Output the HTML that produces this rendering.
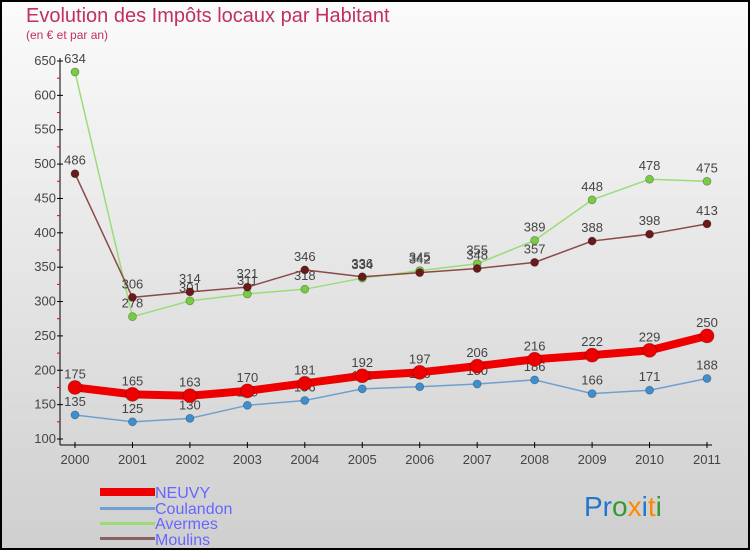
<!DOCTYPE html>
<html><head><meta charset="utf-8"><style>
body{margin:0;width:750px;height:550px;overflow:hidden;font-family:"Liberation Sans",sans-serif}
</style></head><body>
<svg id="c" width="750" height="550" xmlns="http://www.w3.org/2000/svg">
<defs><linearGradient id="bg" x1="0" y1="0" x2="0" y2="1"><stop offset="0" stop-color="#fbfbfb"/><stop offset="1" stop-color="#cfcfcf"/></linearGradient></defs>
<rect x="1" y="1" width="748" height="548" fill="url(#bg)" stroke="#000" stroke-width="2"/>
<text x="26" y="22" font-size="20" fill="#c03060">Evolution des Impôts locaux par Habitant</text>
<text x="26" y="39" font-size="12" fill="#c03060">(en € et par an)</text>
<g id="axes"></g><g id="series"></g>
<g font-size="16" fill="#6666ff">
<rect x="100" y="488" width="55" height="8" fill="#ee0000"/><text x="155" y="498">NEUVY</text>
<rect x="100" y="507" width="55" height="3" fill="#6fa0d0"/><text x="155" y="514">Coulandon</text>
<rect x="100" y="522" width="55" height="3" fill="#99dd77"/><text x="155" y="529">Avermes</text>
<rect x="100" y="537" width="55" height="3" fill="#8a6060"/><text x="155" y="545">Moulins</text>
</g>
<g font-size="28">
<text x="584" y="516"><tspan fill="#2277cc">Pr</tspan><tspan fill="#339933">o</tspan><tspan fill="#ff8800">x</tspan><tspan fill="#2277cc">i</tspan><tspan fill="#ff8800">t</tspan><tspan fill="#339933">i</tspan></text>
</g>
</svg>
<script>
const years=["2000","2001","2002","2003","2004","2005","2006","2007","2008","2009","2010","2011"];
const neuvy=[175,165,163,170,181,192,197,206,216,222,229,250];
const coulandon=[135,125,130,149,156,173,176,180,186,166,171,188];
const avermes=[634,278,301,311,318,334,345,355,389,448,478,475];
const moulins=[486,306,314,321,346,336,342,348,357,388,398,413];
const yTicks=[100,150,200,250,300,350,400,450,500,550,600,650];
const NS="http://www.w3.org/2000/svg";
const x=i=>75+i*(707-75)/11;
const y=v=>439-(v-100)*(439-61)/550;
function mk(t,a,p){const e=document.createElementNS(NS,t);for(const k in a)e.setAttribute(k,a[k]);p.appendChild(e);return e;}
const ax=document.getElementById('axes');
let l=mk('line',{x1:60,y1:58,x2:60,y2:445,stroke:'#000'},ax);

l=mk('line',{x1:60,y1:445,x2:712,y2:445,stroke:'#000'},ax);

yTicks.forEach((v,i)=>{
 mk('line',{x1:57,y1:y(v),x2:63,y2:y(v),stroke:'#000'},ax);
 if(i<yTicks.length-1)mk('line',{x1:57,y1:y(v+25),x2:60,y2:y(v+25),stroke:'#e00'},ax);
 const t=mk('text',{x:56,y:y(v)+4,'font-size':13,'text-anchor':'end',fill:'#444'},ax);
 
 t.textContent=v;
});
years.forEach((yr,i)=>{
 mk('line',{x1:x(i),y1:442,x2:x(i),y2:448,stroke:'#000'},ax);
 const t=mk('text',{x:x(i),y:464,'font-size':13,'text-anchor':'middle',fill:'#444'},ax);
 
 t.textContent=yr;
});
const sg=document.getElementById('series');
function draw(name,vals,col,w,r,dot){
 const g=mk('g',{},sg);
 
 mk('polyline',{points:vals.map((v,i)=>x(i)+','+y(v)).join(' '),fill:'none',stroke:col,'stroke-width':w,'stroke-linejoin':'round'},g);
 vals.forEach((v,i)=>{
  const c=mk('circle',{cx:x(i),cy:y(v),r:r,fill:dot,stroke:'rgba(0,0,0,0.3)','stroke-width':0.8},g);
  
  const t=mk('text',{x:x(i),y:y(v)-9,'font-size':13,'text-anchor':'middle',fill:'#444'},g);
  
  t.textContent=v;
 });
}
draw('coulandon',coulandon,'#6fa0d0',1.5,4,'#3d8fd0');
draw('avermes',avermes,'#99dd77',1.5,4,'#77cc44');
draw('moulins',moulins,'#8a4a4a',1.5,4,'#6a1a1a');
draw('neuvy',neuvy,'#ee0000',8,7,'#ee0000');
</script>
</body></html>
